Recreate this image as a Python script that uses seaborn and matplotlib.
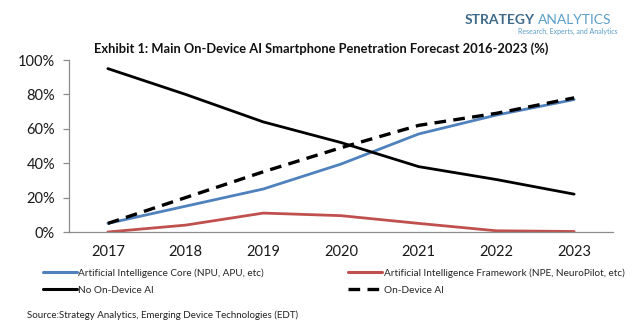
import matplotlib
matplotlib.use("Agg")
import matplotlib.pyplot as plt
import seaborn as sns
import pandas as pd
from matplotlib.lines import Line2D
from matplotlib.ticker import FixedLocator, PercentFormatter

years = ["2017", "2018", "2019", "2020", "2021", "2022", "2023"]
ai_core = [5, 15, 25, 39.5, 57, 68, 77]
ai_framework = [0, 4, 11, 9.5, 5, 0.7, 0.3]
no_ai = [95, 80, 64, 52, 38, 30.5, 22]
on_device = [5, 20, 35, 49, 62, 69, 78]

names = ["Artificial Intelligence Core (NPU, APU, etc)",
         "Artificial Intelligence Framework (NPE, NeuroPilot, etc)",
         "No On-Device AI",
         "On-Device AI"]
series = [ai_core, ai_framework, no_ai, on_device]
colors = ["#4f81bd", "#c0504d", "#000000", "#000000"]

rows = []
for n, vals in zip(names, series):
    for y, v in zip(years, vals):
        rows.append({"year": y, "value": v, "series": n})
df = pd.DataFrame(rows)

sns.set_style("white")
plt.rcParams["font.family"] = ["Lato", "DejaVu Sans"]

fig = plt.figure(figsize=(6.37, 3.33), dpi=100)
ax = fig.add_axes([69/637, 1-232/333, (613-69)/637, (232-60)/333])

palette = dict(zip(names, colors))
dashes = {names[0]: "", names[1]: "", names[2]: "", names[3]: (3.5, 2.2)}
sns.lineplot(data=df, x="year", y="value", hue="series", style="series",
             palette=palette, dashes=dashes, linewidth=2.0, ax=ax,
             legend=False, sort=False)
for ln in ax.lines:
    if ln.get_linestyle() not in ("-", "solid"):
        ln.set_linewidth(2.4)

ax.set_xlim(-0.5, 6.5)
ax.set_ylim(0, 100)
ax.set_yticks([0, 20, 40, 60, 80, 100])
ax.yaxis.set_major_formatter(PercentFormatter(decimals=0))
ax.set_xlabel("")
ax.set_ylabel("")
for s in ["top", "right"]:
    ax.spines[s].set_visible(False)
for s in ["left", "bottom"]:
    ax.spines[s].set_color("#8c8c8c")
    ax.spines[s].set_linewidth(0.9)
ax.xaxis.set_minor_locator(FixedLocator([i + 0.5 for i in range(-1, 7)]))
ax.tick_params(axis="x", which="major", length=0, labelsize=10.5, pad=9, colors="#1a1a1a")
ax.tick_params(axis="x", which="minor", length=4, width=0.9, color="#8c8c8c", direction="out")
ax.tick_params(axis="y", which="major", length=4, width=0.9, color="#8c8c8c", labelsize=10.5,
               direction="out", left=True, pad=6, labelcolor="#1a1a1a")

fig.text(94/637, 1-49/333, "Exhibit 1: Main On-Device AI Smartphone Penetration Forecast 2016-2023 (%)",
         fontsize=9.3, fontweight="bold", va="center", ha="left", color="#111111")

# logo
fig.text(465/637, 1-20/333, "STRATEGY", fontsize=10, fontweight="bold", color="#3f6a8a",
         va="center", ha="left")
fig.text(538/637, 1-20/333, "ANALYTICS", fontsize=10, color="#5b9ec9",
         va="center", ha="left")
fig.text(618/637, 1-31/333, "Research, Experts, and Analytics", fontsize=5, color="#5b9ec9",
         va="center", ha="right")

handles = [Line2D([], [], color=colors[0], lw=2.2),
           Line2D([], [], color=colors[2], lw=2.2),
           Line2D([], [], color=colors[1], lw=2.2),
           Line2D([], [], color=colors[3], lw=2.4, dashes=(3.5, 2.2))]
labels = [names[0], names[2], names[1], names[3]]
fig.legend(handles, labels, loc="upper left", bbox_to_anchor=(43/637, 1-268/333),
           ncol=2, frameon=False, fontsize=7.2, handlelength=3.4, handletextpad=0.15,
           columnspacing=8.4, labelspacing=0.8, borderaxespad=0, borderpad=0)

fig.text(27/637, 1-315/333, "Source:Strategy Analytics, Emerging Device Technologies (EDT)",
         fontsize=7, va="center", ha="left", color="#222222")

fig.savefig("out.png", dpi=100)
